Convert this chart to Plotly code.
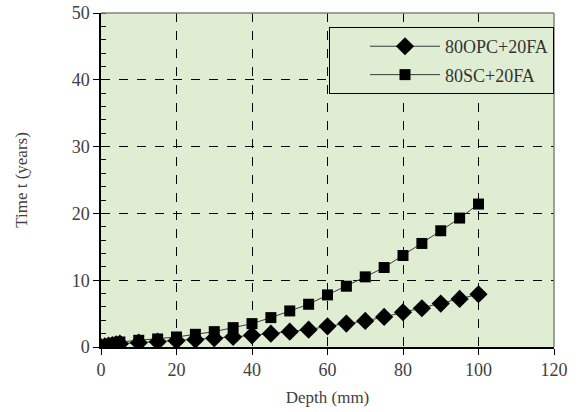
import plotly.graph_objects as go

depth = [0, 1, 2, 3, 4, 5, 10, 15, 20, 25, 30, 35, 40, 45, 50, 55, 60, 65, 70, 75, 80, 85, 90, 95, 100]
opc = [0, 0.1, 0.2, 0.3, 0.4, 0.5, 0.65, 0.8, 0.95, 1.1, 1.3, 1.5, 1.75, 2.0, 2.3, 2.6, 3.1, 3.5, 3.9, 4.5, 5.2, 5.8, 6.5, 7.2, 7.9]
sc = [0, 0.15, 0.3, 0.45, 0.6, 0.75, 1.0, 1.2, 1.5, 1.9, 2.3, 2.9, 3.5, 4.4, 5.4, 6.4, 7.8, 9.1, 10.5, 11.9, 13.7, 15.5, 17.4, 19.3, 21.4]

font = "Liberation Serif"
fig = go.Figure()
fig.add_trace(go.Scatter(x=depth, y=opc, mode="lines+markers", name="80OPC+20FA",
                         legendgroup="a",
                         line=dict(color="#3a3a3a", width=1),
                         marker=dict(symbol="diamond", size=14, color="black")))
fig.add_trace(go.Scatter(x=depth, y=sc, mode="lines+markers", name="80SC+20FA",
                         legendgroup="b",
                         line=dict(color="#3a3a3a", width=1),
                         marker=dict(symbol="square", size=11, color="black")))

fig.update_layout(
    width=579, height=412,
    margin=dict(l=101, r=25, t=13, b=65, autoexpand=False),
    paper_bgcolor="white", plot_bgcolor="#DFEED3",
    font=dict(family=font, size=17, color="#404040"),
    showlegend=True,
    legend=dict(x=1, xanchor="right", y=0.958, yanchor="top",
                bgcolor="#DFEED3", bordercolor="black", borderwidth=1,
                font=dict(family=font, size=18, color="#333333"),
                itemwidth=70, indentation=35, tracegroupgap=2),
)
fig.update_xaxes(range=[0, 120], dtick=20, showline=True, linecolor="black", linewidth=1.5,
                 ticks="outside", ticklen=6, tickcolor="black",
                 tickfont=dict(family=font, size=18, color="#404040"),
                 ticklabeloverflow="allow", automargin=False,
                 showgrid=True, gridcolor="black", griddash="dash", gridwidth=1,
                 zeroline=False, title=dict(text="Depth (mm)", font=dict(family=font, size=17), standoff=12))
fig.update_yaxes(range=[0, 50], dtick=10, showline=True, linecolor="black", linewidth=1.5,
                 ticks="outside", ticklen=6, tickcolor="black",
                 tickfont=dict(family=font, size=18, color="#404040"),
                 ticklabeloverflow="allow", automargin=False,
                 minor=dict(dtick=2, ticks="inside", ticklen=5, tickcolor="black", showgrid=False),
                 showgrid=True, gridcolor="black", griddash="dash", gridwidth=1,
                 zeroline=False, title=dict(text="Time t (years)", font=dict(family=font, size=17), standoff=40))
fig.add_shape(type="line", xref="paper", yref="paper", x0=0, x1=1, y0=1, y1=1,
              line=dict(color="#808080", width=1.5), layer="above")
fig.add_shape(type="line", xref="paper", yref="paper", x0=1, x1=1, y0=0, y1=1,
              line=dict(color="#808080", width=1.5), layer="above")
fig.write_html("out.html", config={"displayModeBar": False},
               post_script="document.body.style.margin='0';")
